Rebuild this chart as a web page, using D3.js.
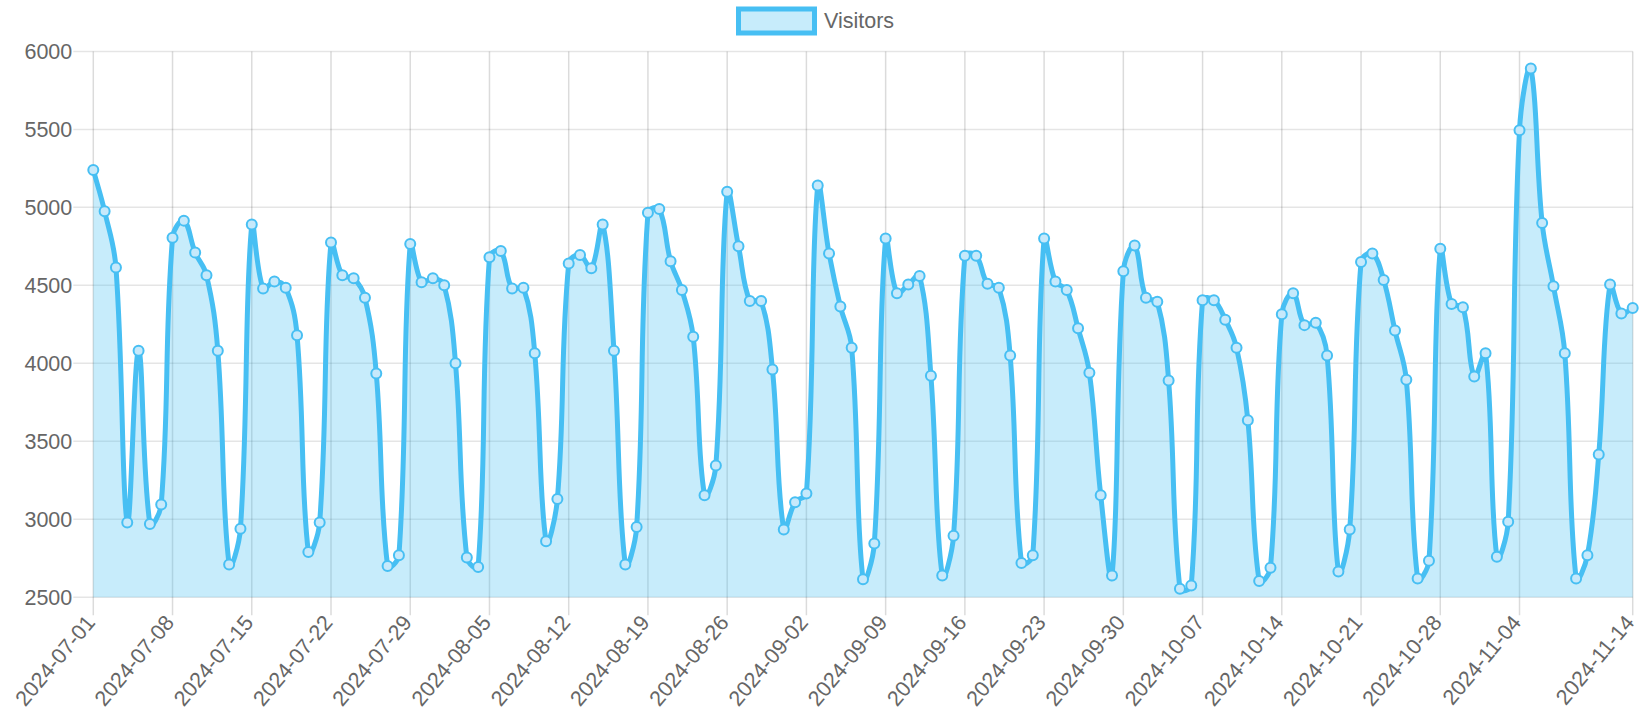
<!DOCTYPE html>
<html>
<head>
<meta charset="utf-8">
<script src="https://cdn.jsdelivr.net/npm/d3@7"></script>
<style>
  html, body { margin: 0; padding: 0; background: #fff; }
  svg text { font-family: "Helvetica Neue", Helvetica, "Liberation Sans", Arial, sans-serif; fill: #666; }
</style>
</head>
<body>
<div id="chart"></div>
<script>
// Daily visitors, 2024-07-01 .. 2024-11-14
const startDate = "2024-07-01";
const visitors = [
  5240, 4975, 4615, 2980, 4080, 2970, 3095,
  4805, 4915, 4710, 4565, 4080, 2710, 2940,
  4890, 4480, 4525, 4485, 4180, 2790, 2980,
  4775, 4565, 4545, 4420, 3935, 2700, 2770,
  4765, 4520, 4545, 4500, 4000, 2755, 2695,
  4680, 4720, 4480, 4485, 4065, 2860, 3130,
  4640, 4695, 4610, 4890, 4080, 2710, 2950,
  4965, 4990, 4655, 4470, 4170, 3155, 3345,
  5100, 4750, 4400, 4400, 3960, 2935, 3110,
  3165, 5140, 4705, 4365, 4100, 2615, 2845,
  4800, 4450, 4505, 4560, 3920, 2640, 2895,
  4690, 4690, 4510, 4485, 4050, 2720, 2770,
  4800, 4525, 4470, 4225, 3940, 3155, 2640,
  4590, 4755, 4420, 4395, 3890, 2555, 2575,
  4405, 4405, 4280, 4100, 3635, 2605, 2690,
  4315, 4450, 4245, 4260, 4050, 2665, 2935,
  4650, 4705, 4535, 4210, 3895, 2620, 2735,
  4735, 4380, 4360, 3915, 4065, 2760, 2985,
  5495, 5890, 4900, 4495, 4065, 2620, 2770,
  3415, 4505, 4320, 4355
];
const xTickLabels = [
  "2024-07-01", "2024-07-08", "2024-07-15", "2024-07-22", "2024-07-29",
  "2024-08-05", "2024-08-12", "2024-08-19", "2024-08-26", "2024-09-02",
  "2024-09-09", "2024-09-16", "2024-09-23", "2024-09-30", "2024-10-07",
  "2024-10-14", "2024-10-21", "2024-10-28", "2024-11-04", "2024-11-14"
];
const yTicks = [2500, 3000, 3500, 4000, 4500, 5000, 5500, 6000];
const seriesName = "Visitors";

const lineColor = "#47bff3";
const fillColor = "rgba(71,191,243,0.3)";

const width = 1646, height = 719;
const area = { left: 93.3, right: 1632.7, top: 51.4, bottom: 597.3 };

const parse = d3.utcParse("%Y-%m-%d");
const t0 = parse(startDate);
const data = visitors.map((v, i) => ({ date: d3.utcDay.offset(t0, i), value: v }));

const x = d3.scaleUtc()
  .domain([t0, data[data.length - 1].date])
  .range([area.left, area.right]);
const y = d3.scaleLinear()
  .domain([2500, 6000])
  .range([area.bottom, area.top]);

const svg = d3.select("#chart").append("svg")
  .attr("width", width)
  .attr("height", height);

// horizontal grid
svg.append("g")
  .selectAll("line")
  .data(yTicks)
  .join("line")
  .attr("x1", area.left - 20).attr("x2", area.right)
  .attr("y1", d => y(d)).attr("y2", d => y(d))
  .attr("stroke", "rgba(0,0,0,0.1)")
  .attr("stroke-width", 1.5);

// vertical grid
svg.append("g")
  .selectAll("line")
  .data(xTickLabels)
  .join("line")
  .attr("x1", d => x(parse(d))).attr("x2", d => x(parse(d)))
  .attr("y1", area.top).attr("y2", area.bottom + 18)
  .attr("stroke", "rgba(0,0,0,0.14)")
  .attr("stroke-width", 1.5);

// y labels
svg.append("g")
  .selectAll("text")
  .data(yTicks)
  .join("text")
  .attr("x", area.left - 21)
  .attr("y", d => y(d))
  .attr("dy", "0.36em")
  .attr("text-anchor", "end")
  .style("font-size", "21.5px")
  .text(d => d);

// x labels, rotated like chart.js auto-rotation
svg.append("g")
  .selectAll("text")
  .data(xTickLabels)
  .join("text")
  .attr("transform", d => `translate(${x(parse(d)) - 3},${area.bottom + 21}) rotate(-50)`)
  .attr("dy", "0.35em")
  .attr("text-anchor", "end")
  .style("font-size", "21.5px")
  .text(d => d);

// Chart.js-style bezier (tension 0.4)
const pts = data.map(d => ({ x: x(d.date), y: y(d.value) }));
const tension = 0.4;
const clampX = v => Math.max(area.left, Math.min(area.right, v));
const clampY = v => Math.max(area.top, Math.min(area.bottom, v));
pts.forEach((p, i) => {
  const prev = pts[i - 1] || p, next = pts[i + 1] || p;
  const d01 = Math.hypot(p.x - prev.x, p.y - prev.y);
  const d12 = Math.hypot(next.x - p.x, next.y - p.y);
  let s01 = d01 / (d01 + d12), s12 = d12 / (d01 + d12);
  if (isNaN(s01)) s01 = 0;
  if (isNaN(s12)) s12 = 0;
  const fa = tension * s01, fb = tension * s12;
  p.cpPrev = { x: clampX(p.x - fa * (next.x - prev.x)), y: clampY(p.y - fa * (next.y - prev.y)) };
  p.cpNext = { x: clampX(p.x + fb * (next.x - prev.x)), y: clampY(p.y + fb * (next.y - prev.y)) };
});

function curvePath(path) {
  path.moveTo(pts[0].x, pts[0].y);
  for (let i = 1; i < pts.length; i++) {
    const a = pts[i - 1], b = pts[i];
    path.bezierCurveTo(a.cpNext.x, a.cpNext.y, b.cpPrev.x, b.cpPrev.y, b.x, b.y);
  }
  return path;
}

const fillPath = curvePath(d3.path());
fillPath.lineTo(pts[pts.length - 1].x, area.bottom);
fillPath.lineTo(pts[0].x, area.bottom);
fillPath.closePath();

svg.append("path")
  .attr("d", fillPath.toString())
  .attr("fill", fillColor)
  .attr("stroke", "none");

svg.append("path")
  .attr("d", curvePath(d3.path()).toString())
  .attr("fill", "none")
  .attr("stroke", lineColor)
  .attr("stroke-width", 5)
  .attr("stroke-linejoin", "round");

svg.append("g")
  .selectAll("circle")
  .data(data)
  .join("circle")
  .attr("cx", d => x(d.date))
  .attr("cy", d => y(d.value))
  .attr("r", 5)
  .attr("fill", "#c6e9fb")
  .attr("stroke", lineColor)
  .attr("stroke-width", 2);

// legend
const legend = svg.append("g");
legend.append("rect")
  .attr("x", 738.5).attr("y", 9)
  .attr("width", 76).attr("height", 24)
  .attr("fill", fillColor)
  .attr("stroke", lineColor)
  .attr("stroke-width", 5);
legend.append("text")
  .attr("x", 824).attr("y", 28)
  .style("font-size", "21.5px")
  .text(seriesName);
</script>
</body>
</html>
